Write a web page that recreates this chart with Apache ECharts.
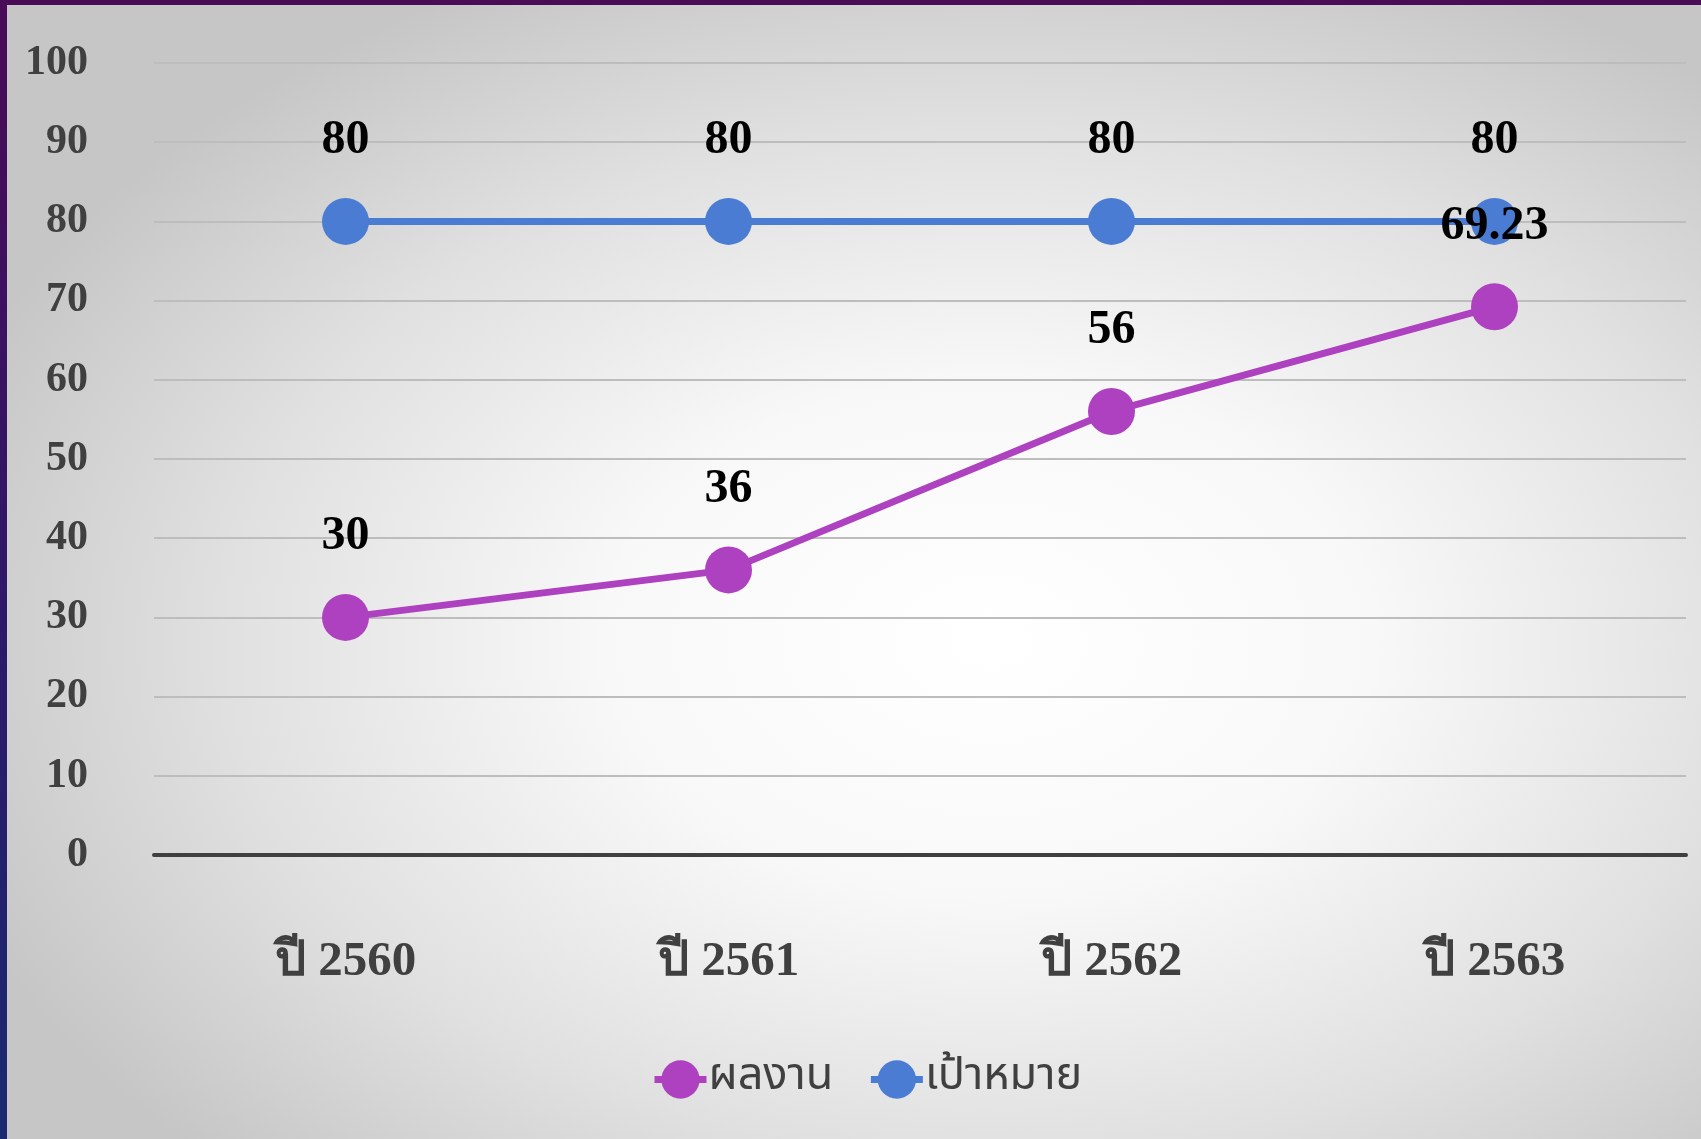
<!DOCTYPE html>
<html>
<head>
<meta charset="utf-8">
<script src="https://cdn.jsdelivr.net/npm/echarts@6/dist/echarts.min.js"></script>
<style>
html,body{margin:0;padding:0;width:1701px;height:1139px;overflow:hidden;
  background:linear-gradient(180deg,#4a0b57 0%,#2a1a6a 60%,#1a2a70 100%);}
#frame{position:absolute;left:7px;top:5px;width:1694px;height:1134px;
  background:radial-gradient(ellipse 65% 65% at 58% 56%,#ffffff 0%,#f8f8f8 35%,#e0e0e0 70%,#c6c6c6 100%);}
#chart{position:absolute;left:-7px;top:-5px;width:1701px;height:1139px;}
</style>
</head>
<body>
<div id="frame"><div id="chart"></div></div>
<script>
const categories = ['ปี 2560','ปี 2561','ปี 2562','ปี 2563'];
const resultValues = [30, 36, 56, 69.23];
const targetValues = [80, 80, 80, 80];
const seriesNames = ['ผลงาน','เป้าหมาย'];

const chart = echarts.init(document.getElementById('chart'), null, {renderer:'canvas'});
const serif = '"Liberation Serif","Times New Roman",serif';
const labelStyle = {show:true, position:'top', distance:33, color:'#000', fontSize:48, fontWeight:'bold', fontFamily:serif};
chart.setOption({
  backgroundColor:'transparent',
  animation:false,
  grid:{left:154, right:15, top:63, bottom:284, containLabel:false},
  legend:{
    data:seriesNames, bottom:32, left:646,
    itemWidth:52, itemHeight:48, itemGap:34,
    lineStyle:{width:7},
    textStyle:{fontSize:45, color:'#404040', fontFamily:'"Noto Sans Thai","Noto Sans","DejaVu Sans",sans-serif', padding:[0,0,0,-3]}
  },
  xAxis:{
    type:'category', data:categories, boundaryGap:true,
    axisLine:{show:true, lineStyle:{color:'#404040', width:4}},
    axisTick:{show:false},
    axisLabel:{margin:83, fontSize:49, fontWeight:'bold', color:'#404040', fontFamily:serif}
  },
  yAxis:{
    type:'value', min:0, max:100, interval:10,
    axisLine:{show:false}, axisTick:{show:false},
    splitLine:{lineStyle:{color:'#bdbdbd', width:2}},
    axisLabel:{margin:66, fontSize:42, fontWeight:'bold', color:'#404040', fontFamily:serif}
  },
  series:[
    {name:seriesNames[0], type:'line', data:resultValues, symbol:'circle', symbolSize:47,
     itemStyle:{color:'#ae41c0'}, lineStyle:{color:'#ae41c0', width:7}, label:labelStyle, z:3},
    {name:seriesNames[1], type:'line', data:targetValues, symbol:'circle', symbolSize:47,
     itemStyle:{color:'#4a7cd3'}, lineStyle:{color:'#4a7cd3', width:7}, label:labelStyle, z:2}
  ]
});
</script>
</body>
</html>
